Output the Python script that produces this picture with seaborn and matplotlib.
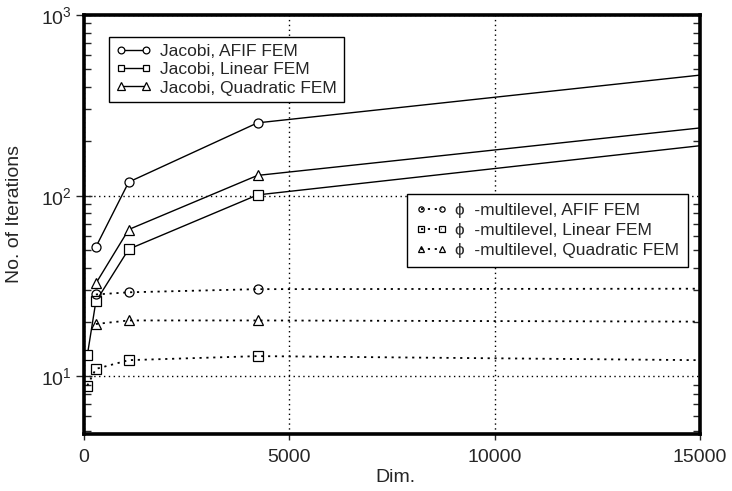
import numpy as np
import pandas as pd
import matplotlib
matplotlib.use("Agg")
import matplotlib.pyplot as plt
import seaborn as sns

# ---- data ----
dims = [81, 289, 1089, 4225, 16641]
jacobi_afif = [np.nan, 52, 119, 253, 510]
jacobi_linear = [13.1, 26, 50.6, 101, 208]
jacobi_quad = [np.nan, 32.7, 65, 129.5, 260]
phi_afif = [np.nan, 28.4, 29.2, 30.4, 30.6]
phi_linear = [8.9, 11.0, 12.3, 12.95, 12.2]
phi_quad = [np.nan, 19.5, 20.4, 20.4, 20.05]

labels_jacobi = ["Jacobi, AFIF FEM", "Jacobi, Linear FEM", "Jacobi, Quadratic FEM"]
labels_phi = ["\u03d5  -multilevel, AFIF FEM", "\u03d5  -multilevel, Linear FEM",
              "\u03d5  -multilevel, Quadratic FEM"]
x_ticks = [0, 5000, 10000, 15000]

sns.set_style("ticks")
plt.rcParams['font.family'] = ['Liberation Sans', 'DejaVu Sans']
plt.rcParams['mathtext.fontset'] = 'custom'
plt.rcParams['mathtext.rm'] = 'Liberation Sans'
plt.rcParams['mathtext.it'] = 'Liberation Sans'

fig = plt.figure(figsize=(7.32, 4.91), dpi=100)
ax = fig.add_axes([84/732, 1 - 434/491, (700-84)/732, (434-15)/491])

markers = ["o", "s", "^"]
jac = [jacobi_afif, jacobi_linear, jacobi_quad]
phi = [phi_afif, phi_linear, phi_quad]
dot = (0, (1.2, 2.6))

h_jac, h_phi = [], []
for vals, m, lab in zip(jac, markers, labels_jacobi):
    df = pd.DataFrame({"x": dims, "y": vals}).dropna()
    sns.lineplot(data=df, x="x", y="y", ax=ax, color="black", lw=1.0,
                 marker=m, markersize=6.5 if m != "^" else 7, markerfacecolor="white",
                 markeredgecolor="black", markeredgewidth=0.9, label=lab,
                 legend=False)
    h_jac.append(ax.lines[-1])
for vals, m, lab in zip(phi, markers, labels_phi):
    df = pd.DataFrame({"x": dims, "y": vals}).dropna()
    sns.lineplot(data=df, x="x", y="y", ax=ax, color="black", lw=1.3,
                 linestyle=dot, marker=m, markersize=6.5 if m != "^" else 7,
                 markerfacecolor="none", markeredgecolor="black",
                 markeredgewidth=0.9, label=lab, legend=False)
    h_phi.append(ax.lines[-1])

ax.set_yscale("log")
ax.set_xlim(0, 15000)
ax.set_ylim(4.8, 1000)
ax.set_xticks(x_ticks)
ax.set_xticklabels([str(t) for t in x_ticks])

ax.grid(True, which="major", color="black", linestyle=(0, (1, 2.5)), lw=1.0)
for s in ax.spines.values():
    s.set_linewidth(2.6)
    s.set_color("black")

ax.tick_params(axis="x", which="major", direction="out", length=4, width=1,
               labelsize=14, pad=7, top=False)
ax.tick_params(axis="y", which="major", direction="inout", length=11, width=1,
               labelsize=14, pad=3, left=True, right=False)
ax.tick_params(axis="y", which="minor", direction="in", length=5, width=1,
               left=True, right=True)

ax.set_xlabel("Dim.", fontsize=14)
ax.set_ylabel("No. of Iterations", fontsize=14)
ax.xaxis.set_label_coords(0.505, -0.083)
ax.yaxis.set_label_coords(-0.099, 0.525)

leg1 = ax.legend(handles=h_jac, labels=labels_jacobi, loc="upper left",
                 bbox_to_anchor=(0.040, 0.947), fontsize=12.5, frameon=True,
                 fancybox=False, edgecolor="black", framealpha=1,
                 handlelength=2.05, handletextpad=0.5, labelspacing=0.17,
                 borderpad=0.4, borderaxespad=0, numpoints=2, markerscale=0.75)
leg1.get_frame().set_linewidth(1.0)
ax.add_artist(leg1)
leg2 = ax.legend(handles=h_phi, labels=labels_phi, loc="upper left",
                 bbox_to_anchor=(0.524, 0.573), fontsize=12.5, frameon=True,
                 fancybox=False, edgecolor="black", framealpha=1,
                 handlelength=1.8, handletextpad=0.5, labelspacing=0.3,
                 borderpad=0.5, borderaxespad=0, numpoints=2, markerscale=0.58)
leg2.get_frame().set_linewidth(1.0)

fig.savefig("out.png", dpi=100)
